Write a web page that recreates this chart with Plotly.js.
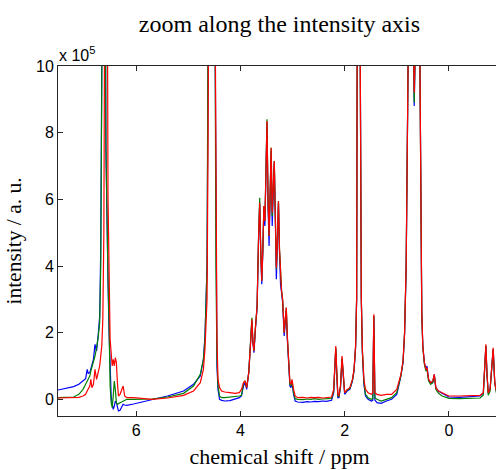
<!DOCTYPE html>
<html>
<head>
<meta charset="utf-8">
<script src="https://cdn.plot.ly/plotly-3.0.1.min.js"></script>
<style>
html,body{margin:0;padding:0;overflow:hidden;background:#fff;}
#chart{width:520px;height:470px;}
</style>
</head>
<body>
<div id="chart"></div>
<script>
// chemical shift (ppm), shared by all three spectra
const ppm = [
  7.50, 7.35, 7.20, 7.10, 7.02, 6.97, 6.94, 6.92, 6.89, 6.87, 6.85, 6.82, 6.79, 6.76, 6.73, 6.70,
  6.68, 6.66, 6.64, 6.62, 6.60, 6.58, 6.56, 6.54, 6.52, 6.50,
  6.48, 6.46, 6.44, 6.42, 6.40, 6.38, 6.36, 6.34, 6.31, 6.28, 6.25, 6.22, 6.18, 6.05, 5.90, 5.70, 5.40,
  5.09, 4.90, 4.77, 4.71, 4.68, 4.64, 4.62, 4.60, 4.55, 4.50, 4.48, 4.47, 4.45, 4.43, 4.40, 4.36, 4.30, 4.20, 4.10, 4.02,
  3.98, 3.94, 3.91, 3.88, 3.84, 3.80, 3.78, 3.76, 3.74, 3.71, 3.68, 3.65, 3.63, 3.61, 3.59, 3.57, 3.55, 3.53, 3.51, 3.49,
  3.47, 3.45, 3.43, 3.41, 3.39, 3.37, 3.35, 3.33, 3.31, 3.29, 3.27, 3.25, 3.23, 3.21, 3.19, 3.16, 3.14, 3.12, 3.10, 3.08,
  3.05, 3.03, 3.01, 2.98, 2.95, 2.90,
  2.80, 2.72, 2.65, 2.58, 2.50, 2.42, 2.35, 2.25, 2.21, 2.19, 2.17, 2.15, 2.13, 2.11, 2.08, 2.05, 2.02, 2.00, 1.95, 1.90,
  1.85, 1.82, 1.79, 1.77, 1.76, 1.74, 1.72, 1.70, 1.68, 1.66, 1.63, 1.60, 1.55, 1.49, 1.46, 1.44, 1.42, 1.38, 1.30, 1.20, 1.10, 1.00,
  0.92, 0.88, 0.85, 0.82, 0.80, 0.78, 0.75, 0.72, 0.69, 0.665, 0.64, 0.61, 0.58, 0.56, 0.54, 0.52, 0.50, 0.47, 0.44, 0.42,
  0.39, 0.35, 0.31, 0.28, 0.25, 0.20, 0.13, 0.00, -0.20, -0.40, -0.60, -0.66, -0.69, -0.71, -0.73, -0.755, -0.79, -0.82, -0.85, -0.88, -0.92, -1.00
];

// intensities in units of 1e5 (a. u.)
const blueSpec = [
  .28, .32, .38, .45, .55, .62, .90, .78, .80, .90, 1.05, 1.20, 1.65, 1.45, 1.90, 2.50,
  4.5, 10, 25, 30, 16, 7.5, 4.5, 3.5, 2.0, .80,
  .10, -.15, -.30, -.20, -.05, -.10, -.25, -.35, -.33, -.22, -.15, -.17, -.18, -.14, -.08, .00, .10,
  .25, .45, .70, 1.20, 1.90, 4.0, 10, 20, 40, 15, 8, 4, 1.0, .30, .00, -.03, -.05, -.04, .00, .05,
  .10, .40, .50, .30, .80, 1.80, 2.35, 1.70, 1.40, 2.15, 2.75, 4.9, 5.85, 4.4, 3.45, 4.4, 5.7, 5.2, 6.4, 8.3,
  5.8, 4.6, 6.1, 7.45, 5.2, 6.1, 7.1, 5.4, 3.6, 4.7, 5.9, 4.4, 3.45, 3.2, 2.9, 1.9, 2.3, 2.65, 1.8, 1.1,
  .40, .35, .50, .15, -.05, -.08,
  -.09, -.07, -.08, -.06, -.07, -.05, -.06, -.03, .20, .90, 1.50, .70, .05, .05, .35, 1.20, .35, .15, .25, .30,
  .55, .85, 1.55, 3.0, 10, 40, 40, 10, 3, 1.4, .45, .10, .00, -.05, -.03, 2.5, -.02, -.10, -.12, -.05, .00, .15,
  .70, 1.10, 1.95, 3.9, 7, 10.5, 20, 20, 11, 8.8, 11, 20, 20, 11, 5, 2.6, 1.6, 1.1, .90, 1.0,
  .60, .50, .50, .75, .35, .25, .18, .07, .06, .08, .10, .18, 1.0, 1.6, .8, .18, .30, .90, 1.5, .5, .18, .10
];
const greenSpec = [
  .05, .05, .07, .15, .30, .45, .55, .62, .70, .85, .95, 1.15, 1.30, 1.55, 1.85, 2.30,
  4.0, 9.5, 25, 30, 16, 7.5, 4.5, 3.6, 2.2, .40,
  -.10, -.25, .10, .55, .30, -.10, -.15, -.12, -.10, -.08, -.05, -.02, .00, .00, .01, .01, .07,
  .18, .40, .75, 1.20, 1.80, 4.0, 10, 20, 40, 15, 8, 4, 1.2, .40, .10, .05, .05, .06, .08, .10,
  .12, .50, .55, .35, .80, 1.80, 2.45, 1.75, 1.45, 2.20, 2.80, 5.0, 6.05, 4.5, 3.55, 4.5, 5.8, 5.35, 6.5, 8.4,
  6.0, 4.9, 6.2, 7.55, 5.5, 6.2, 7.15, 5.5, 3.9, 4.8, 5.95, 4.5, 3.55, 3.25, 3.0, 2.0, 2.4, 2.75, 1.9, 1.2,
  .45, .40, .55, .20, .02, .00,
  -.01, .01, .00, .02, .00, .01, .02, .03, .25, .95, 1.55, .75, .10, .08, .38, 1.25, .38, .20, .28, .32,
  .58, .88, 1.58, 3.0, 10, 40, 40, 10, 3, 1.45, .50, .15, .05, .00, .02, 2.5, .05, .00, -.05, .00, .05, .20,
  .72, 1.12, 2.0, 4.0, 7, 10.5, 20, 20, 11, 8.9, 11, 20, 20, 11, 5, 2.6, 1.55, 1.05, .85, .90,
  .55, .45, .50, .72, .30, .18, .10, .03, .02, .03, .04, .12, 1.0, 1.6, .8, .12, .25, .90, 1.5, .5, .12, .04
];
const redSpec = [
  .04, .04, .05, .06, .10, .15, .25, .30, .40, .60, .35, .45, .90, .60, .80, 1.00,
  1.30, 1.60, 2.40, 5.0, 14, 30, 16, 6.0, 3.0, 1.80,
  1.40, 1.00, 1.20, 1.00, 1.25, 1.10, .50, .10, .15, .30, .40, .10, .05, .05, .03, .00, .04,
  .12, .25, .50, .90, 1.50, 3.0, 8.0, 18, 40, 16, 10, 6, 1.8, .60, .35, .25, .22, .20, .18, .20,
  .30, .50, .55, .35, .80, 1.80, 2.40, 1.70, 1.45, 2.20, 2.80, 5.0, 5.90, 4.5, 3.55, 4.5, 5.8, 5.35, 6.5, 8.35,
  6.0, 4.9, 6.2, 7.55, 5.6, 6.2, 7.15, 5.5, 3.95, 4.8, 5.95, 4.5, 3.55, 3.25, 3.0, 2.0, 2.4, 2.75, 1.9, 1.2,
  .50, .45, .60, .30, .10, .05,
  .06, .04, .06, .05, .06, .04, .05, .07, .30, 1.00, 1.60, .80, .15, .10, .40, 1.30, .40, .20, .30, .35,
  .60, .90, 1.60, 3.0, 10, 40, 40, 10, 3, 1.5, .60, .30, .20, .15, .20, 2.55, .20, .15, .12, .15, .15, .30,
  .75, 1.15, 2.0, 4.0, 7, 10.5, 20, 20, 11, 9.2, 11, 20, 20, 11, 5, 2.6, 1.6, 1.1, .90, .95,
  .60, .50, .55, .75, .35, .25, .20, .10, .10, .10, .12, .20, 1.0, 1.65, .8, .20, .30, .90, 1.55, .5, .20, .12
];

const xTicks = [6, 4, 2, 0];
const yTicks = [0, 2, 4, 6, 8, 10];

const sans = 'Liberation Sans, Arial, sans-serif';
const serif = 'Liberation Serif, Times New Roman, serif';

function spec(y, color) {
  return {x: ppm, y: y, type: 'scatter', mode: 'lines',
          line: {color: color, width: 1.2}, hoverinfo: 'skip', showlegend: false};
}

const data = [spec(blueSpec, '#0000ff'), spec(greenSpec, '#008000'), spec(redSpec, '#ff0000')];

const axisCommon = {
  showline: true, mirror: 'allticks', linecolor: '#262626', linewidth: 1,
  ticks: 'inside', ticklen: 5, tickcolor: '#262626', tickwidth: 1,
  showgrid: false, zeroline: false,
  tickfont: {family: sans, size: 16, color: '#000'}
};

const layout = {
  width: 520, height: 470,
  margin: {l: 58, r: 19, t: 66, b: 54},
  paper_bgcolor: '#fff', plot_bgcolor: '#fff',
  title: {text: 'zoom along the intensity axis', font: {family: serif, size: 24, color: '#000'},
          x: 0.5, xref: 'paper', xanchor: 'center', y: 1 - 24/470, yanchor: 'middle'},
  xaxis: Object.assign({}, axisCommon, {
    range: [7.5, -1.0], tickvals: xTicks, ticktext: xTicks.map(String),
    title: {text: 'chemical shift / ppm', font: {family: serif, size: 22, color: '#000'}, standoff: 10}
  }),
  yaxis: Object.assign({}, axisCommon, {
    range: [-0.5, 10], tickvals: yTicks, ticktext: yTicks.map(String),
    title: {text: 'intensity / a. u.', font: {family: serif, size: 21.5, color: '#000'}, standoff: 8}
  }),
  annotations: [{
    text: 'x 10<sup>5</sup>', xref: 'paper', yref: 'paper', x: 0, y: 1,
    xanchor: 'left', yanchor: 'bottom', showarrow: false, xshift: -1, yshift: 0,
    font: {family: sans, size: 16, color: '#000'}
  }]
};

Plotly.newPlot('chart', data, layout, {displayModeBar: false, staticPlot: true});
</script>
</body>
</html>
